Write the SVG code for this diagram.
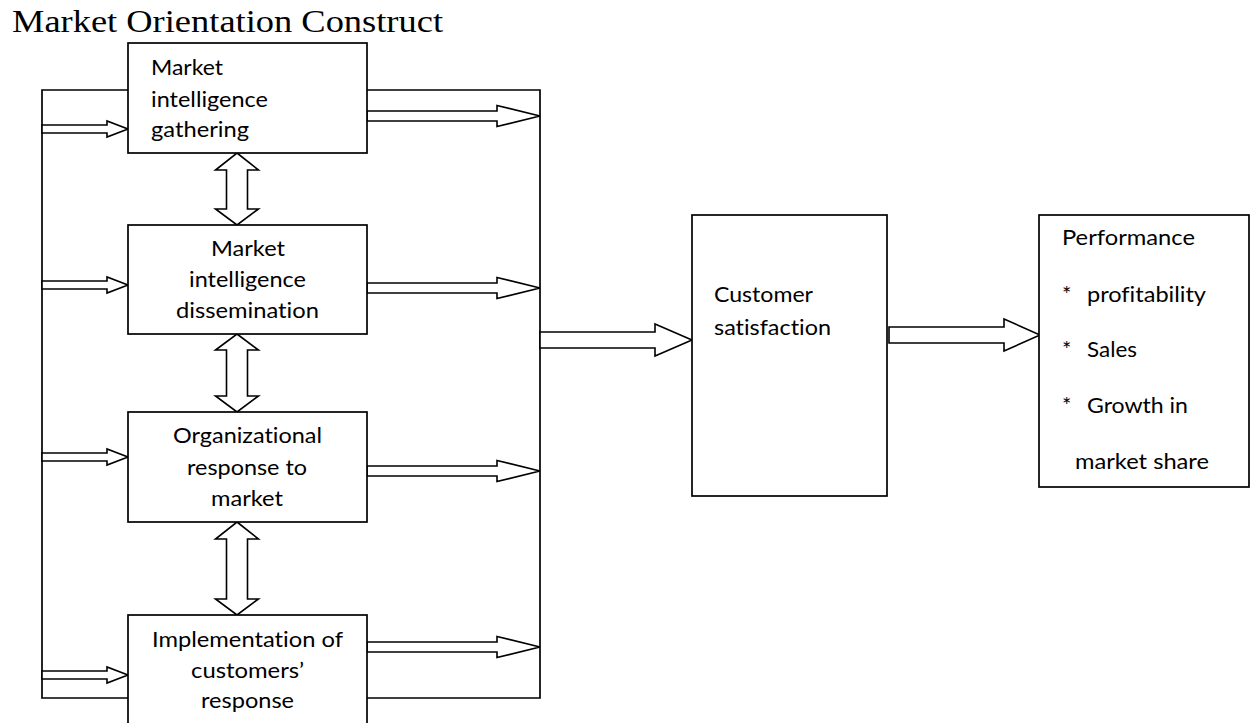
<svg xmlns="http://www.w3.org/2000/svg" width="1252" height="723" viewBox="0 0 1252 723">
<style>
.box{fill:#fff;stroke:#000;stroke-width:1.7}
.ln{fill:none;stroke:#000;stroke-width:1.7}
.ar{fill:#fff;stroke:#000;stroke-width:1.6;stroke-linejoin:miter}
.t{font-family:Lato,"Open Sans","Liberation Sans",sans-serif;font-size:22px;fill:#000;font-variant-ligatures:none;font-feature-settings:"liga" 0,"clig" 0}
.c{text-anchor:middle}
.title{font-family:"Liberation Serif","Times New Roman",serif;font-size:32px;fill:#000}
</style>
<rect width="1252" height="723" fill="#fff"/>
<text class="title" x="12" y="32" textLength="431" lengthAdjust="spacingAndGlyphs">Market Orientation Construct</text>

<g id="connectors">
  <path class="ln" d="M128,90 H42 V698 H128 M367,90 H540 V698 H367"/>
  <polygon class="ar" points="42,125 107,125 107,121 128,129 107,137 107,133 42,133"/>
  <polygon class="ar" points="42,281 107,281 107,277 128,285 107,293 107,289 42,289"/>
  <polygon class="ar" points="42,453 107,453 107,449 128,457 107,465 107,461 42,461"/>
  <polygon class="ar" points="42,671 107,671 107,667 128,675 107,683 107,679 42,679"/>
  <polygon class="ar" points="367,111 497,111 497,105.5 540,116 497,126.5 497,121 367,121"/>
  <polygon class="ar" points="367,283 497,283 497,277.5 540,288 497,298.5 497,293 367,293"/>
  <polygon class="ar" points="367,466 497,466 497,460.5 540,471 497,481.5 497,476 367,476"/>
  <polygon class="ar" points="367,642 497,642 497,636.5 540,647 497,657.5 497,652 367,652"/>
  <polygon class="ar" points="237,153 258.5,170 247.5,170 247.5,209 258.5,209 237,225 215.5,209 226.5,209 226.5,170 215.5,170"/>
  <polygon class="ar" points="237,334 258.5,350 247.5,350 247.5,396 258.5,396 237,412 215.5,396 226.5,396 226.5,350 215.5,350"/>
  <polygon class="ar" points="237,522 258.5,539 247.5,539 247.5,599 258.5,599 237,615 215.5,599 226.5,599 226.5,539 215.5,539"/>
  <polygon class="ar" points="540,332 655,332 655,324 692,340 655,356 655,348 540,348"/>
  <polygon class="ar" points="889,327 1004,327 1004,319 1040,335 1004,351 1004,343 889,343"/>
</g>

<g id="gathering">
  <rect class="box" x="128" y="43" width="239" height="110"/>
  <text class="t" x="151" y="75" textLength="72" lengthAdjust="spacingAndGlyphs">Market</text>
  <text class="t" x="151" y="107" textLength="117" lengthAdjust="spacingAndGlyphs">intelligence</text>
  <text class="t" x="151" y="137" textLength="98" lengthAdjust="spacingAndGlyphs">gathering</text>
</g>

<g id="dissemination">
  <rect class="box" x="128" y="225" width="239" height="109"/>
  <text class="t c" x="248" y="256" textLength="74" lengthAdjust="spacingAndGlyphs">Market</text>
  <text class="t c" x="247.5" y="287" textLength="117" lengthAdjust="spacingAndGlyphs">intelligence</text>
  <text class="t c" x="247.5" y="318" textLength="143" lengthAdjust="spacingAndGlyphs">dissemination</text>
</g>

<g id="response">
  <rect class="box" x="128" y="412" width="239" height="110"/>
  <text class="t c" x="247.5" y="443" textLength="149" lengthAdjust="spacingAndGlyphs">Organizational</text>
  <text class="t c" x="247" y="475" textLength="120" lengthAdjust="spacingAndGlyphs">response to</text>
  <text class="t c" x="247" y="506" textLength="72" lengthAdjust="spacingAndGlyphs">market</text>
</g>

<g id="implementation">
  <rect class="box" x="128" y="615" width="239" height="130"/>
  <text class="t c" x="247.5" y="647" textLength="191" lengthAdjust="spacingAndGlyphs">Implementation of</text>
  <text class="t c" x="247.5" y="678" textLength="113" lengthAdjust="spacingAndGlyphs">customers’</text>
  <text class="t c" x="247.5" y="708" textLength="93" lengthAdjust="spacingAndGlyphs">response</text>
</g>

<g id="satisfaction">
  <rect class="box" x="692" y="215" width="195" height="281"/>
  <text class="t" x="714" y="302" textLength="99" lengthAdjust="spacingAndGlyphs">Customer</text>
  <text class="t" x="714" y="335" textLength="117" lengthAdjust="spacingAndGlyphs">satisfaction</text>
</g>

<g id="performance">
  <rect class="box" x="1039" y="215" width="210" height="272"/>
  <text class="t" x="1062" y="245" textLength="133" lengthAdjust="spacingAndGlyphs">Performance</text>
  <text class="t"><tspan x="1062" y="302">*</tspan><tspan x="1087" y="302" textLength="119" lengthAdjust="spacingAndGlyphs">profitability</tspan></text>
  <text class="t"><tspan x="1062" y="357">*</tspan><tspan x="1087" y="357" textLength="50" lengthAdjust="spacingAndGlyphs">Sales</tspan></text>
  <text class="t"><tspan x="1062" y="413">*</tspan><tspan x="1087" y="413" textLength="101" lengthAdjust="spacingAndGlyphs">Growth in</tspan></text>
  <text class="t" x="1075" y="469" textLength="134" lengthAdjust="spacingAndGlyphs">market share</text>
</g>
</svg>
